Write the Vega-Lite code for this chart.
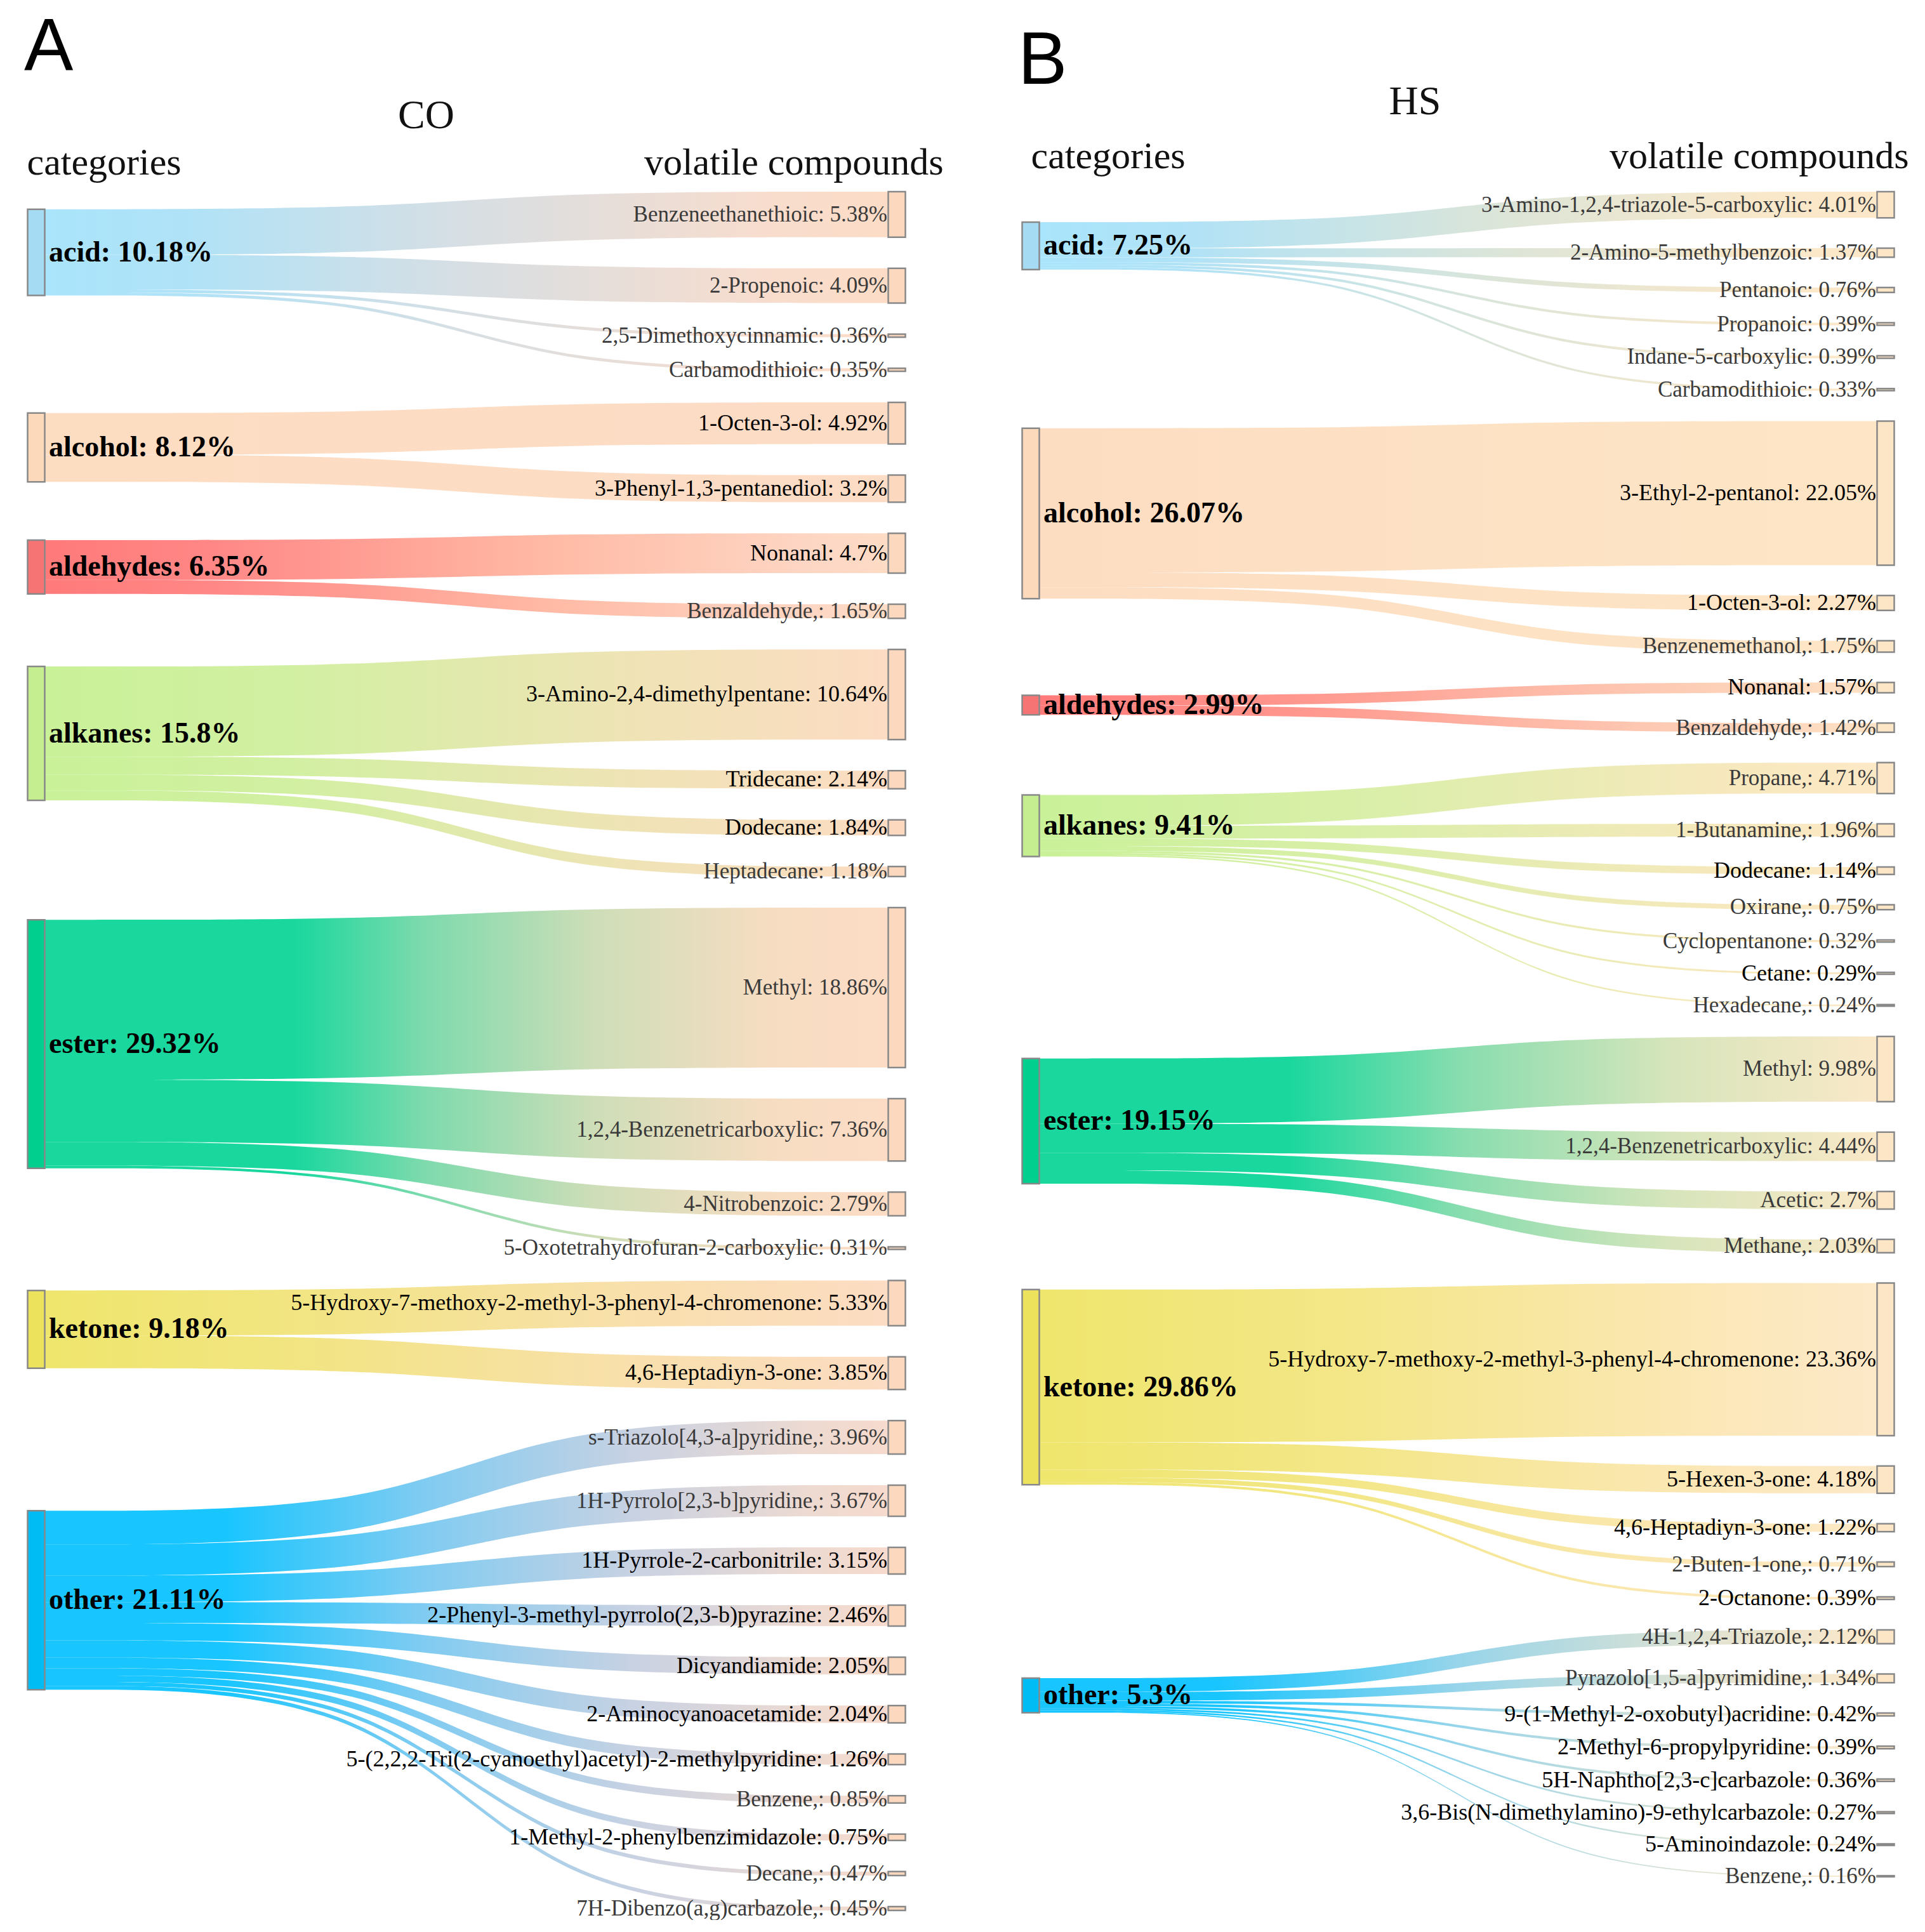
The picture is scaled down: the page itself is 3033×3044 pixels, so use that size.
{
"$schema": "https://vega.github.io/schema/vega-lite/v6.json",
"background": "white",
"padding": {"left": 38, "top": 18, "right": 0, "bottom": 0},
"spacing": 118,
"config": {"view": {"stroke": null}, "font": "Liberation Serif"},
"resolve": {"scale": {"x": "independent", "y": "independent"}},
"datasets": {
"la": [
{"c":"acid","l":"Benzeneethanethioic: 5.38%","x":[0,0.4,0.6,1],"y0":[2.07,2.07,0,0],"y1":[7.45,7.45,5.38,5.38]},
{"c":"acid","l":"2-Propenoic: 4.09%","x":[0,0.4,0.6,1],"y0":[7.45,7.45,9.05,9.05],"y1":[11.54,11.54,13.14,13.14]},
{"c":"acid","l":"2,5-Dimethoxycinnamic: 0.36%","x":[0,0.4,0.6,1],"y0":[11.54,11.54,16.81,16.81],"y1":[11.9,11.9,17.17,17.17]},
{"c":"acid","l":"Carbamodithioic: 0.35%","x":[0,0.4,0.6,1],"y0":[11.9,11.9,20.84,20.84],"y1":[12.25,12.25,21.19,21.19]},
{"c":"alcohol","l":"1-Octen-3-ol: 4.92%","x":[0,0.4,0.6,1],"y0":[26.12,26.12,24.86,24.86],"y1":[31.04,31.04,29.78,29.78]},
{"c":"alcohol","l":"3-Phenyl-1,3-pentanediol: 3.2%","x":[0,0.4,0.6,1],"y0":[31.04,31.04,33.45,33.45],"y1":[34.24,34.24,36.65,36.65]},
{"c":"aldehydes","l":"Nonanal: 4.7%","x":[0,0.4,0.6,1],"y0":[41.12,41.12,40.32,40.32],"y1":[45.82,45.82,45.02,45.02]},
{"c":"aldehydes","l":"Benzaldehyde,: 1.65%","x":[0,0.4,0.6,1],"y0":[45.82,45.82,48.69,48.69],"y1":[47.47,47.47,50.34,50.34]},
{"c":"alkanes","l":"3-Amino-2,4-dimethylpentane: 10.64%","x":[0,0.4,0.6,1],"y0":[56.03,56.03,54.01,54.01],"y1":[66.67,66.67,64.65,64.65]},
{"c":"alkanes","l":"Tridecane: 2.14%","x":[0,0.4,0.6,1],"y0":[66.67,66.67,68.32,68.32],"y1":[68.81,68.81,70.46,70.46]},
{"c":"alkanes","l":"Dodecane: 1.84%","x":[0,0.4,0.6,1],"y0":[68.81,68.81,74.13,74.13],"y1":[70.65,70.65,75.97,75.97]},
{"c":"alkanes","l":"Heptadecane: 1.18%","x":[0,0.4,0.6,1],"y0":[70.65,70.65,79.64,79.64],"y1":[71.83,71.83,80.82,80.82]},
{"c":"ester","l":"Methyl: 18.86%","x":[0,0.4,0.6,1],"y0":[85.92,85.92,84.49,84.49],"y1":[104.78,104.78,103.35,103.35]},
{"c":"ester","l":"1,2,4-Benzenetricarboxylic: 7.36%","x":[0,0.4,0.6,1],"y0":[104.78,104.78,107.02,107.02],"y1":[112.14,112.14,114.38,114.38]},
{"c":"ester","l":"4-Nitrobenzoic: 2.79%","x":[0,0.4,0.6,1],"y0":[112.14,112.14,118.05,118.05],"y1":[114.93,114.93,120.84,120.84]},
{"c":"ester","l":"5-Oxotetrahydrofuran-2-carboxylic: 0.31%","x":[0,0.4,0.6,1],"y0":[114.93,114.93,124.51,124.51],"y1":[115.24,115.24,124.82,124.82]},
{"c":"ketone","l":"5-Hydroxy-7-methoxy-2-methyl-3-phenyl-4-chromenone: 5.33%","x":[0,0.4,0.6,1],"y0":[129.66,129.66,128.49,128.49],"y1":[134.99,134.99,133.82,133.82]},
{"c":"ketone","l":"4,6-Heptadiyn-3-one: 3.85%","x":[0,0.4,0.6,1],"y0":[134.99,134.99,137.49,137.49],"y1":[138.84,138.84,141.34,141.34]},
{"c":"other","l":"s-Triazolo[4,3-a]pyridine,: 3.96%","x":[0,0.4,0.6,1],"y0":[155.66,155.66,145.01,145.01],"y1":[159.62,159.62,148.97,148.97]},
{"c":"other","l":"1H-Pyrrolo[2,3-b]pyridine,: 3.67%","x":[0,0.4,0.6,1],"y0":[159.62,159.62,152.64,152.64],"y1":[163.29,163.29,156.31,156.31]},
{"c":"other","l":"1H-Pyrrole-2-carbonitrile: 3.15%","x":[0,0.4,0.6,1],"y0":[163.29,163.29,159.98,159.98],"y1":[166.44,166.44,163.13,163.13]},
{"c":"other","l":"2-Phenyl-3-methyl-pyrrolo(2,3-b)pyrazine: 2.46%","x":[0,0.4,0.6,1],"y0":[166.44,166.44,166.8,166.8],"y1":[168.9,168.9,169.26,169.26]},
{"c":"other","l":"Dicyandiamide: 2.05%","x":[0,0.4,0.6,1],"y0":[168.9,168.9,172.93,172.93],"y1":[170.95,170.95,174.98,174.98]},
{"c":"other","l":"2-Aminocyanoacetamide: 2.04%","x":[0,0.4,0.6,1],"y0":[170.95,170.95,178.65,178.65],"y1":[172.99,172.99,180.69,180.69]},
{"c":"other","l":"5-(2,2,2-Tri(2-cyanoethyl)acetyl)-2-methylpyridine: 1.26%","x":[0,0.4,0.6,1],"y0":[172.99,172.99,184.36,184.36],"y1":[174.25,174.25,185.62,185.62]},
{"c":"other","l":"Benzene,: 0.85%","x":[0,0.4,0.6,1],"y0":[174.25,174.25,189.29,189.29],"y1":[175.1,175.1,190.14,190.14]},
{"c":"other","l":"1-Methyl-2-phenylbenzimidazole: 0.75%","x":[0,0.4,0.6,1],"y0":[175.1,175.1,193.81,193.81],"y1":[175.85,175.85,194.56,194.56]},
{"c":"other","l":"Decane,: 0.47%","x":[0,0.4,0.6,1],"y0":[175.85,175.85,198.23,198.23],"y1":[176.32,176.32,198.7,198.7]},
{"c":"other","l":"7H-Dibenzo(a,g)carbazole,: 0.45%","x":[0,0.4,0.6,1],"y0":[176.32,176.32,202.37,202.37],"y1":[176.77,176.77,202.82,202.82]}
],
"lb": [
{"c":"acid","l":"3-Amino-1,2,4-triazole-5-carboxylic: 4.01%","x":[0,0.4,0.6,1],"y0":[4.66,4.66,0,0],"y1":[8.67,8.67,4.01,4.01]},
{"c":"acid","l":"2-Amino-5-methylbenzoic: 1.37%","x":[0,0.4,0.6,1],"y0":[8.67,8.67,8.65,8.65],"y1":[10.04,10.04,10.02,10.02]},
{"c":"acid","l":"Pentanoic: 0.76%","x":[0,0.4,0.6,1],"y0":[10.04,10.04,14.66,14.66],"y1":[10.8,10.8,15.42,15.42]},
{"c":"acid","l":"Propanoic: 0.39%","x":[0,0.4,0.6,1],"y0":[10.8,10.8,20.06,20.06],"y1":[11.19,11.19,20.45,20.45]},
{"c":"acid","l":"Indane-5-carboxylic: 0.39%","x":[0,0.4,0.6,1],"y0":[11.19,11.19,25.09,25.09],"y1":[11.58,11.58,25.48,25.48]},
{"c":"acid","l":"Carbamodithioic: 0.33%","x":[0,0.4,0.6,1],"y0":[11.58,11.58,30.12,30.12],"y1":[11.91,11.91,30.45,30.45]},
{"c":"alcohol","l":"3-Ethyl-2-pentanol: 22.05%","x":[0,0.4,0.6,1],"y0":[36.2,36.2,35.09,35.09],"y1":[58.25,58.25,57.14,57.14]},
{"c":"alcohol","l":"1-Octen-3-ol: 2.27%","x":[0,0.4,0.6,1],"y0":[58.25,58.25,61.78,61.78],"y1":[60.52,60.52,64.05,64.05]},
{"c":"alcohol","l":"Benzenemethanol,: 1.75%","x":[0,0.4,0.6,1],"y0":[60.52,60.52,68.69,68.69],"y1":[62.27,62.27,70.44,70.44]},
{"c":"aldehydes","l":"Nonanal: 1.57%","x":[0,0.4,0.6,1],"y0":[77.05,77.05,75.08,75.08],"y1":[78.62,78.62,76.65,76.65]},
{"c":"aldehydes","l":"Benzaldehyde,: 1.42%","x":[0,0.4,0.6,1],"y0":[78.62,78.62,81.29,81.29],"y1":[80.04,80.04,82.71,82.71]},
{"c":"alkanes","l":"Propane,: 4.71%","x":[0,0.4,0.6,1],"y0":[92.3,92.3,87.35,87.35],"y1":[97.01,97.01,92.06,92.06]},
{"c":"alkanes","l":"1-Butanamine,: 1.96%","x":[0,0.4,0.6,1],"y0":[97.01,97.01,96.7,96.7],"y1":[98.97,98.97,98.66,98.66]},
{"c":"alkanes","l":"Dodecane: 1.14%","x":[0,0.4,0.6,1],"y0":[98.97,98.97,103.3,103.3],"y1":[100.11,100.11,104.44,104.44]},
{"c":"alkanes","l":"Oxirane,: 0.75%","x":[0,0.4,0.6,1],"y0":[100.11,100.11,109.08,109.08],"y1":[100.86,100.86,109.83,109.83]},
{"c":"alkanes","l":"Cyclopentanone: 0.32%","x":[0,0.4,0.6,1],"y0":[100.86,100.86,114.47,114.47],"y1":[101.18,101.18,114.79,114.79]},
{"c":"alkanes","l":"Cetane: 0.29%","x":[0,0.4,0.6,1],"y0":[101.18,101.18,119.43,119.43],"y1":[101.47,101.47,119.72,119.72]},
{"c":"alkanes","l":"Hexadecane,: 0.24%","x":[0,0.4,0.6,1],"y0":[101.47,101.47,124.36,124.36],"y1":[101.71,101.71,124.6,124.6]},
{"c":"ester","l":"Methyl: 9.98%","x":[0,0.4,0.6,1],"y0":[132.6,132.6,129.24,129.24],"y1":[142.58,142.58,139.22,139.22]},
{"c":"ester","l":"1,2,4-Benzenetricarboxylic: 4.44%","x":[0,0.4,0.6,1],"y0":[142.58,142.58,143.86,143.86],"y1":[147.02,147.02,148.3,148.3]},
{"c":"ester","l":"Acetic: 2.7%","x":[0,0.4,0.6,1],"y0":[147.02,147.02,152.94,152.94],"y1":[149.72,149.72,155.64,155.64]},
{"c":"ester","l":"Methane,: 2.03%","x":[0,0.4,0.6,1],"y0":[149.72,149.72,160.28,160.28],"y1":[151.75,151.75,162.31,162.31]},
{"c":"ketone","l":"5-Hydroxy-7-methoxy-2-methyl-3-phenyl-4-chromenone: 23.36%","x":[0,0.4,0.6,1],"y0":[167.96,167.96,166.95,166.95],"y1":[191.32,191.32,190.31,190.31]},
{"c":"ketone","l":"5-Hexen-3-one: 4.18%","x":[0,0.4,0.6,1],"y0":[191.32,191.32,194.95,194.95],"y1":[195.5,195.5,199.13,199.13]},
{"c":"ketone","l":"4,6-Heptadiyn-3-one: 1.22%","x":[0,0.4,0.6,1],"y0":[195.5,195.5,203.77,203.77],"y1":[196.72,196.72,204.99,204.99]},
{"c":"ketone","l":"2-Buten-1-one,: 0.71%","x":[0,0.4,0.6,1],"y0":[196.72,196.72,209.63,209.63],"y1":[197.43,197.43,210.34,210.34]},
{"c":"ketone","l":"2-Octanone: 0.39%","x":[0,0.4,0.6,1],"y0":[197.43,197.43,214.98,214.98],"y1":[197.82,197.82,215.37,215.37]},
{"c":"other","l":"4H-1,2,4-Triazole,: 2.12%","x":[0,0.4,0.6,1],"y0":[227.4,227.4,220.01,220.01],"y1":[229.52,229.52,222.13,222.13]},
{"c":"other","l":"Pyrazolo[1,5-a]pyrimidine,: 1.34%","x":[0,0.4,0.6,1],"y0":[229.52,229.52,226.77,226.77],"y1":[230.86,230.86,228.11,228.11]},
{"c":"other","l":"9-(1-Methyl-2-oxobutyl)acridine: 0.42%","x":[0,0.4,0.6,1],"y0":[230.86,230.86,232.75,232.75],"y1":[231.28,231.28,233.17,233.17]},
{"c":"other","l":"2-Methyl-6-propylpyridine: 0.39%","x":[0,0.4,0.6,1],"y0":[231.28,231.28,237.81,237.81],"y1":[231.67,231.67,238.2,238.2]},
{"c":"other","l":"5H-Naphtho[2,3-c]carbazole: 0.36%","x":[0,0.4,0.6,1],"y0":[231.67,231.67,242.84,242.84],"y1":[232.03,232.03,243.2,243.2]},
{"c":"other","l":"3,6-Bis(N-dimethylamino)-9-ethylcarbazole: 0.27%","x":[0,0.4,0.6,1],"y0":[232.03,232.03,247.84,247.84],"y1":[232.3,232.3,248.11,248.11]},
{"c":"other","l":"5-Aminoindazole: 0.24%","x":[0,0.4,0.6,1],"y0":[232.3,232.3,252.75,252.75],"y1":[232.54,232.54,252.99,252.99]},
{"c":"other","l":"Benzene,: 0.16%","x":[0,0.4,0.6,1],"y0":[232.54,232.54,257.63,257.63],"y1":[232.7,232.7,257.79,257.79]}
],
"ca": [
{"c":"acid","l":"acid: 10.18%","y0":2.07,"y1":12.25},
{"c":"alcohol","l":"alcohol: 8.12%","y0":26.12,"y1":34.24},
{"c":"aldehydes","l":"aldehydes: 6.35%","y0":41.12,"y1":47.47},
{"c":"alkanes","l":"alkanes: 15.8%","y0":56.03,"y1":71.83},
{"c":"ester","l":"ester: 29.32%","y0":85.92,"y1":115.24},
{"c":"ketone","l":"ketone: 9.18%","y0":129.66,"y1":138.84},
{"c":"other","l":"other: 21.11%","y0":155.66,"y1":176.77}
],
"cb": [
{"c":"acid","l":"acid: 7.25%","y0":4.66,"y1":11.91},
{"c":"alcohol","l":"alcohol: 26.07%","y0":36.2,"y1":62.27},
{"c":"aldehydes","l":"aldehydes: 2.99%","y0":77.05,"y1":80.04},
{"c":"alkanes","l":"alkanes: 9.41%","y0":92.3,"y1":101.71},
{"c":"ester","l":"ester: 19.15%","y0":132.6,"y1":151.75},
{"c":"ketone","l":"ketone: 29.86%","y0":167.96,"y1":197.82},
{"c":"other","l":"other: 5.3%","y0":227.4,"y1":232.7}
]
},
"hconcat": [
{
"width": 1366, "height": 2708,
"title": {"text": "A", "anchor": "start", "frame": "group", "font": "Liberation Sans", "fontSize": 116, "fontWeight": "normal", "color": "#000000", "dx": -14, "offset": 15},
"layer": [
{"data": {"name": "la"}, "transform": [{"filter": {"field": "c", "equal": "acid"}}, {"flatten": ["x", "y0", "y1"]}],
 "mark": {"type": "area", "interpolate": "basis", "fillOpacity": 0.9, "fill": {"gradient": "linear", "x1": 0, "y1": 0, "x2": 1, "y2": 0, "stops": [{"offset": 0, "color": "#9fe2fc"}, {"offset": 0.18, "color": "#a8dff6"}, {"offset": 0.5, "color": "#d3dbe0"}, {"offset": 0.85, "color": "#f7d9c8"}, {"offset": 1, "color": "#fcd8bf"}]}},
 "encoding": {
  "x": {"field": "x", "type": "quantitative", "scale": {"domain": [0, 1], "nice": false, "zero": false},
   "axis": {"orient": "top", "values": [0, 1], "domain": false, "ticks": false, "grid": false,
    "labelExpr": "datum.value == 0 ? 'categories' : 'volatile compounds'",
    "labelFont": "Liberation Serif", "labelFontSize": 60, "labelColor": "#111111", "labelLimit": 0,
    "labelAlign": {"condition": {"test": "datum.value == 0", "value": "left"}, "value": "right"},
    "labelOffset": {"condition": {"test": "datum.value == 0", "value": -15}, "value": 73},
    "labelPadding": 15, "labelFlush": false, "labelOverlap": false, "labelBound": false,
    "title": "CO", "titleFont": "Liberation Serif", "titleFontSize": 64, "titleFontWeight": "normal", "titleColor": "#111111", "titlePadding": 12, "titleX": 619}},
  "y": {"field": "y0", "type": "quantitative", "scale": {"domain": [0, 202.82], "reverse": true, "nice": false, "zero": false}, "axis": null},
  "y2": {"field": "y1"},
  "detail": {"field": "l", "type": "nominal"}}},
{"data": {"name": "la"}, "transform": [{"filter": {"field": "c", "equal": "alcohol"}}, {"flatten": ["x", "y0", "y1"]}],
 "mark": {"type": "area", "interpolate": "basis", "fillOpacity": 0.9, "fill": {"gradient": "linear", "x1": 0, "y1": 0, "x2": 1, "y2": 0, "stops": [{"offset": 0, "color": "#fdd9bb"}, {"offset": 1, "color": "#fcd8bf"}]}},
 "encoding": {"x": {"field": "x", "type": "quantitative"}, "y": {"field": "y0", "type": "quantitative", "scale": {"domain": [0, 202.82], "reverse": true, "nice": false, "zero": false}, "axis": null}, "y2": {"field": "y1"}, "detail": {"field": "l", "type": "nominal"}}},
{"data": {"name": "la"}, "transform": [{"filter": {"field": "c", "equal": "aldehydes"}}, {"flatten": ["x", "y0", "y1"]}],
 "mark": {"type": "area", "interpolate": "basis", "fillOpacity": 0.9, "fill": {"gradient": "linear", "x1": 0, "y1": 0, "x2": 1, "y2": 0, "stops": [{"offset": 0, "color": "#ff6b6b"}, {"offset": 0.2, "color": "#ff7a78"}, {"offset": 0.6, "color": "#ffb39c"}, {"offset": 0.9, "color": "#fdd2bd"}, {"offset": 1, "color": "#fcd8bf"}]}},
 "encoding": {"x": {"field": "x", "type": "quantitative"}, "y": {"field": "y0", "type": "quantitative", "scale": {"domain": [0, 202.82], "reverse": true, "nice": false, "zero": false}, "axis": null}, "y2": {"field": "y1"}, "detail": {"field": "l", "type": "nominal"}}},
{"data": {"name": "la"}, "transform": [{"filter": {"field": "c", "equal": "alkanes"}}, {"flatten": ["x", "y0", "y1"]}],
 "mark": {"type": "area", "interpolate": "basis", "fillOpacity": 0.9, "fill": {"gradient": "linear", "x1": 0, "y1": 0, "x2": 1, "y2": 0, "stops": [{"offset": 0, "color": "#c3f08d"}, {"offset": 0.3, "color": "#cdee98"}, {"offset": 0.7, "color": "#eee0ae"}, {"offset": 1, "color": "#fcd8bd"}]}},
 "encoding": {"x": {"field": "x", "type": "quantitative"}, "y": {"field": "y0", "type": "quantitative", "scale": {"domain": [0, 202.82], "reverse": true, "nice": false, "zero": false}, "axis": null}, "y2": {"field": "y1"}, "detail": {"field": "l", "type": "nominal"}}},
{"data": {"name": "la"}, "transform": [{"filter": {"field": "c", "equal": "ester"}}, {"flatten": ["x", "y0", "y1"]}],
 "mark": {"type": "area", "interpolate": "basis", "fillOpacity": 0.9, "fill": {"gradient": "linear", "x1": 0, "y1": 0, "x2": 1, "y2": 0, "stops": [{"offset": 0, "color": "#00d393"}, {"offset": 0.3, "color": "#00d393"}, {"offset": 0.45, "color": "#6fd6a4"}, {"offset": 0.65, "color": "#c9dab0"}, {"offset": 0.85, "color": "#f5d9bb"}, {"offset": 1, "color": "#fcd8bf"}]}},
 "encoding": {"x": {"field": "x", "type": "quantitative"}, "y": {"field": "y0", "type": "quantitative", "scale": {"domain": [0, 202.82], "reverse": true, "nice": false, "zero": false}, "axis": null}, "y2": {"field": "y1"}, "detail": {"field": "l", "type": "nominal"}}},
{"data": {"name": "la"}, "transform": [{"filter": {"field": "c", "equal": "ketone"}}, {"flatten": ["x", "y0", "y1"]}],
 "mark": {"type": "area", "interpolate": "basis", "fillOpacity": 0.9, "fill": {"gradient": "linear", "x1": 0, "y1": 0, "x2": 1, "y2": 0, "stops": [{"offset": 0, "color": "#ede35c"}, {"offset": 0.3, "color": "#f0e274"}, {"offset": 0.7, "color": "#f8dca4"}, {"offset": 1, "color": "#fcd8bd"}]}},
 "encoding": {"x": {"field": "x", "type": "quantitative"}, "y": {"field": "y0", "type": "quantitative", "scale": {"domain": [0, 202.82], "reverse": true, "nice": false, "zero": false}, "axis": null}, "y2": {"field": "y1"}, "detail": {"field": "l", "type": "nominal"}}},
{"data": {"name": "la"}, "transform": [{"filter": {"field": "c", "equal": "other"}}, {"flatten": ["x", "y0", "y1"]}],
 "mark": {"type": "area", "interpolate": "basis", "fillOpacity": 0.9, "fill": {"gradient": "linear", "x1": 0, "y1": 0, "x2": 1, "y2": 0, "stops": [{"offset": 0, "color": "#00bfff"}, {"offset": 0.22, "color": "#00bfff"}, {"offset": 0.45, "color": "#72c6f0"}, {"offset": 0.7, "color": "#c4cddf"}, {"offset": 0.9, "color": "#ecd6cc"}, {"offset": 1, "color": "#f6d6c7"}]}},
 "encoding": {"x": {"field": "x", "type": "quantitative"}, "y": {"field": "y0", "type": "quantitative", "scale": {"domain": [0, 202.82], "reverse": true, "nice": false, "zero": false}, "axis": null}, "y2": {"field": "y1"}, "detail": {"field": "l", "type": "nominal"}}},
{"data": {"name": "la"}, "transform": [{"flatten": ["x", "y0", "y1"]}, {"filter": "datum.x == 1"}],
 "mark": {"type": "bar", "width": 27, "fill": "#fcd8be", "stroke": "#888888", "strokeWidth": 2.5},
 "encoding": {"x": {"field": "x", "type": "quantitative"}, "y": {"field": "y0", "type": "quantitative", "scale": {"domain": [0, 202.82], "reverse": true, "nice": false, "zero": false}, "axis": null}, "y2": {"field": "y1"}}},
{"data": {"name": "ca"},
 "mark": {"type": "bar", "width": 27, "stroke": "#888888", "strokeWidth": 2.5},
 "encoding": {"x": {"datum": 0, "type": "quantitative"}, "y": {"field": "y0", "type": "quantitative", "scale": {"domain": [0, 202.82], "reverse": true, "nice": false, "zero": false}, "axis": null}, "y2": {"field": "y1"},
  "fill": {"field": "c", "type": "nominal", "legend": null, "scale": {"domain": ["acid", "alcohol", "aldehydes", "alkanes", "ester", "ketone", "other"], "range": ["#a6dcf3", "#fdd9bb", "#f77474", "#c5ee90", "#00cf8d", "#ece25c", "#00bcf4"]}}}},
{"data": {"name": "ca"}, "transform": [{"fold": ["y0", "y1"], "as": ["k", "v"]}],
 "mark": {"type": "text", "align": "left", "baseline": "middle", "dx": 20, "font": "Liberation Serif", "fontSize": 46, "fontWeight": "bold", "fill": "#000000"},
 "encoding": {"x": {"datum": 0, "type": "quantitative"}, "y": {"aggregate": "mean", "field": "v", "type": "quantitative", "scale": {"domain": [0, 202.82], "reverse": true, "nice": false, "zero": false}, "axis": null}, "text": {"field": "l"}}},
{"data": {"name": "la"}, "transform": [{"flatten": ["x", "y0", "y1"]}, {"filter": "datum.x == 1"}, {"filter": {"field": "l", "oneOf": ["1-Octen-3-ol: 4.92%","3-Phenyl-1,3-pentanediol: 3.2%","Nonanal: 4.7%","3-Amino-2,4-dimethylpentane: 10.64%","Tridecane: 2.14%","Dodecane: 1.84%","5-Hydroxy-7-methoxy-2-methyl-3-phenyl-4-chromenone: 5.33%","4,6-Heptadiyn-3-one: 3.85%","1H-Pyrrole-2-carbonitrile: 3.15%","2-Phenyl-3-methyl-pyrrolo(2,3-b)pyrazine: 2.46%","Dicyandiamide: 2.05%","2-Aminocyanoacetamide: 2.04%","5-(2,2,2-Tri(2-cyanoethyl)acetyl)-2-methylpyridine: 1.26%","1-Methyl-2-phenylbenzimidazole: 0.75%"]}}, {"fold": ["y0", "y1"], "as": ["k", "v"]}],
 "mark": {"type": "text", "align": "right", "baseline": "middle", "dx": -15, "font": "Liberation Serif", "fontSize": 36, "fill": "#000000"},
 "encoding": {"x": {"field": "x", "type": "quantitative"}, "y": {"aggregate": "mean", "field": "v", "type": "quantitative", "scale": {"domain": [0, 202.82], "reverse": true, "nice": false, "zero": false}, "axis": null}, "text": {"field": "l"}}},
{"data": {"name": "la"}, "transform": [{"flatten": ["x", "y0", "y1"]}, {"filter": "datum.x == 1"}, {"filter": {"not": {"field": "l", "oneOf": ["1-Octen-3-ol: 4.92%","3-Phenyl-1,3-pentanediol: 3.2%","Nonanal: 4.7%","3-Amino-2,4-dimethylpentane: 10.64%","Tridecane: 2.14%","Dodecane: 1.84%","5-Hydroxy-7-methoxy-2-methyl-3-phenyl-4-chromenone: 5.33%","4,6-Heptadiyn-3-one: 3.85%","1H-Pyrrole-2-carbonitrile: 3.15%","2-Phenyl-3-methyl-pyrrolo(2,3-b)pyrazine: 2.46%","Dicyandiamide: 2.05%","2-Aminocyanoacetamide: 2.04%","5-(2,2,2-Tri(2-cyanoethyl)acetyl)-2-methylpyridine: 1.26%","1-Methyl-2-phenylbenzimidazole: 0.75%"]}}}, {"fold": ["y0", "y1"], "as": ["k", "v"]}],
 "mark": {"type": "text", "align": "right", "baseline": "middle", "dx": -15, "font": "Liberation Serif", "fontSize": 35, "fill": "#3a3a3a"},
 "encoding": {"x": {"field": "x", "type": "quantitative"}, "y": {"aggregate": "mean", "field": "v", "type": "quantitative", "scale": {"domain": [0, 202.82], "reverse": true, "nice": false, "zero": false}, "axis": null}, "text": {"field": "l"}}}
]
},
{
"width": 1357, "height": 2655,
"title": {"text": "B", "anchor": "start", "frame": "group", "font": "Liberation Sans", "fontSize": 116, "fontWeight": "normal", "color": "#000000", "dx": -15, "offset": -28},
"layer": [
{"data": {"name": "lb"}, "transform": [{"filter": {"field": "c", "equal": "acid"}}, {"flatten": ["x", "y0", "y1"]}],
 "mark": {"type": "area", "interpolate": "basis", "fillOpacity": 0.9, "fill": {"gradient": "linear", "x1": 0, "y1": 0, "x2": 1, "y2": 0, "stops": [{"offset": 0, "color": "#9fe2fc"}, {"offset": 0.18, "color": "#a8dff6"}, {"offset": 0.55, "color": "#d8e2d4"}, {"offset": 0.85, "color": "#f8e5c4"}, {"offset": 1, "color": "#fde6c3"}]}},
 "encoding": {
  "x": {"field": "x", "type": "quantitative", "scale": {"domain": [0, 1], "nice": false, "zero": false},
   "axis": {"orient": "top", "values": [0, 1], "domain": false, "ticks": false, "grid": false,
    "labelExpr": "datum.value == 0 ? 'categories' : 'volatile compounds'",
    "labelFont": "Liberation Serif", "labelFontSize": 60, "labelColor": "#111111", "labelLimit": 0,
    "labelAlign": {"condition": {"test": "datum.value == 0", "value": "left"}, "value": "right"},
    "labelOffset": {"condition": {"test": "datum.value == 0", "value": 0}, "value": 36},
    "labelPadding": 25, "labelFlush": false, "labelOverlap": false, "labelBound": false,
    "title": "HS", "titleFont": "Liberation Serif", "titleFontSize": 64, "titleFontWeight": "normal", "titleColor": "#111111", "titlePadding": 24, "titleX": 610}},
  "y": {"field": "y0", "type": "quantitative", "scale": {"domain": [0, 257.79], "reverse": true, "nice": false, "zero": false}, "axis": null},
  "y2": {"field": "y1"},
  "detail": {"field": "l", "type": "nominal"}}},
{"data": {"name": "lb"}, "transform": [{"filter": {"field": "c", "equal": "alcohol"}}, {"flatten": ["x", "y0", "y1"]}],
 "mark": {"type": "area", "interpolate": "basis", "fillOpacity": 0.9, "fill": {"gradient": "linear", "x1": 0, "y1": 0, "x2": 1, "y2": 0, "stops": [{"offset": 0, "color": "#fdd9bb"}, {"offset": 1, "color": "#fde3c0"}]}},
 "encoding": {"x": {"field": "x", "type": "quantitative"}, "y": {"field": "y0", "type": "quantitative", "scale": {"domain": [0, 257.79], "reverse": true, "nice": false, "zero": false}, "axis": null}, "y2": {"field": "y1"}, "detail": {"field": "l", "type": "nominal"}}},
{"data": {"name": "lb"}, "transform": [{"filter": {"field": "c", "equal": "aldehydes"}}, {"flatten": ["x", "y0", "y1"]}],
 "mark": {"type": "area", "interpolate": "basis", "fillOpacity": 0.9, "fill": {"gradient": "linear", "x1": 0, "y1": 0, "x2": 1, "y2": 0, "stops": [{"offset": 0, "color": "#ff6b6b"}, {"offset": 0.3, "color": "#ff8a80"}, {"offset": 0.7, "color": "#fdc0a8"}, {"offset": 1, "color": "#fde0bf"}]}},
 "encoding": {"x": {"field": "x", "type": "quantitative"}, "y": {"field": "y0", "type": "quantitative", "scale": {"domain": [0, 257.79], "reverse": true, "nice": false, "zero": false}, "axis": null}, "y2": {"field": "y1"}, "detail": {"field": "l", "type": "nominal"}}},
{"data": {"name": "lb"}, "transform": [{"filter": {"field": "c", "equal": "alkanes"}}, {"flatten": ["x", "y0", "y1"]}],
 "mark": {"type": "area", "interpolate": "basis", "fillOpacity": 0.9, "fill": {"gradient": "linear", "x1": 0, "y1": 0, "x2": 1, "y2": 0, "stops": [{"offset": 0, "color": "#c3f08d"}, {"offset": 0.4, "color": "#d6eda0"}, {"offset": 0.8, "color": "#f5e6b5"}, {"offset": 1, "color": "#fde6c0"}]}},
 "encoding": {"x": {"field": "x", "type": "quantitative"}, "y": {"field": "y0", "type": "quantitative", "scale": {"domain": [0, 257.79], "reverse": true, "nice": false, "zero": false}, "axis": null}, "y2": {"field": "y1"}, "detail": {"field": "l", "type": "nominal"}}},
{"data": {"name": "lb"}, "transform": [{"filter": {"field": "c", "equal": "ester"}}, {"flatten": ["x", "y0", "y1"]}],
 "mark": {"type": "area", "interpolate": "basis", "fillOpacity": 0.9, "fill": {"gradient": "linear", "x1": 0, "y1": 0, "x2": 1, "y2": 0, "stops": [{"offset": 0, "color": "#00d393"}, {"offset": 0.3, "color": "#00d393"}, {"offset": 0.5, "color": "#7ad9a6"}, {"offset": 0.75, "color": "#d3e2b4"}, {"offset": 1, "color": "#fbe6c3"}]}},
 "encoding": {"x": {"field": "x", "type": "quantitative"}, "y": {"field": "y0", "type": "quantitative", "scale": {"domain": [0, 257.79], "reverse": true, "nice": false, "zero": false}, "axis": null}, "y2": {"field": "y1"}, "detail": {"field": "l", "type": "nominal"}}},
{"data": {"name": "lb"}, "transform": [{"filter": {"field": "c", "equal": "ketone"}}, {"flatten": ["x", "y0", "y1"]}],
 "mark": {"type": "area", "interpolate": "basis", "fillOpacity": 0.9, "fill": {"gradient": "linear", "x1": 0, "y1": 0, "x2": 1, "y2": 0, "stops": [{"offset": 0, "color": "#ede35c"}, {"offset": 0.4, "color": "#f2e47e"}, {"offset": 0.8, "color": "#fbe5b0"}, {"offset": 1, "color": "#fde6c3"}]}},
 "encoding": {"x": {"field": "x", "type": "quantitative"}, "y": {"field": "y0", "type": "quantitative", "scale": {"domain": [0, 257.79], "reverse": true, "nice": false, "zero": false}, "axis": null}, "y2": {"field": "y1"}, "detail": {"field": "l", "type": "nominal"}}},
{"data": {"name": "lb"}, "transform": [{"filter": {"field": "c", "equal": "other"}}, {"flatten": ["x", "y0", "y1"]}],
 "mark": {"type": "area", "interpolate": "basis", "fillOpacity": 0.9, "fill": {"gradient": "linear", "x1": 0, "y1": 0, "x2": 1, "y2": 0, "stops": [{"offset": 0, "color": "#00bfff"}, {"offset": 0.22, "color": "#00bfff"}, {"offset": 0.5, "color": "#8cd0e8"}, {"offset": 0.8, "color": "#e0e0cc"}, {"offset": 1, "color": "#fde6c3"}]}},
 "encoding": {"x": {"field": "x", "type": "quantitative"}, "y": {"field": "y0", "type": "quantitative", "scale": {"domain": [0, 257.79], "reverse": true, "nice": false, "zero": false}, "axis": null}, "y2": {"field": "y1"}, "detail": {"field": "l", "type": "nominal"}}},
{"data": {"name": "lb"}, "transform": [{"flatten": ["x", "y0", "y1"]}, {"filter": "datum.x == 1"}],
 "mark": {"type": "bar", "width": 27, "fill": "#fde6c6", "stroke": "#888888", "strokeWidth": 2.5},
 "encoding": {"x": {"field": "x", "type": "quantitative"}, "y": {"field": "y0", "type": "quantitative", "scale": {"domain": [0, 257.79], "reverse": true, "nice": false, "zero": false}, "axis": null}, "y2": {"field": "y1"}}},
{"data": {"name": "cb"},
 "mark": {"type": "bar", "width": 27, "stroke": "#888888", "strokeWidth": 2.5},
 "encoding": {"x": {"datum": 0, "type": "quantitative"}, "y": {"field": "y0", "type": "quantitative", "scale": {"domain": [0, 257.79], "reverse": true, "nice": false, "zero": false}, "axis": null}, "y2": {"field": "y1"},
  "fill": {"field": "c", "type": "nominal", "legend": null, "scale": {"domain": ["acid", "alcohol", "aldehydes", "alkanes", "ester", "ketone", "other"], "range": ["#a6dcf3", "#fdd9bb", "#f77474", "#c5ee90", "#00cf8d", "#ece25c", "#00bcf4"]}}}},
{"data": {"name": "cb"}, "transform": [{"fold": ["y0", "y1"], "as": ["k", "v"]}],
 "mark": {"type": "text", "align": "left", "baseline": "middle", "dx": 20, "font": "Liberation Serif", "fontSize": 46, "fontWeight": "bold", "fill": "#000000"},
 "encoding": {"x": {"datum": 0, "type": "quantitative"}, "y": {"aggregate": "mean", "field": "v", "type": "quantitative", "scale": {"domain": [0, 257.79], "reverse": true, "nice": false, "zero": false}, "axis": null}, "text": {"field": "l"}}},
{"data": {"name": "lb"}, "transform": [{"flatten": ["x", "y0", "y1"]}, {"filter": "datum.x == 1"}, {"filter": {"field": "l", "oneOf": ["3-Ethyl-2-pentanol: 22.05%","1-Octen-3-ol: 2.27%","Nonanal: 1.57%","Dodecane: 1.14%","Cetane: 0.29%","5-Hydroxy-7-methoxy-2-methyl-3-phenyl-4-chromenone: 23.36%","5-Hexen-3-one: 4.18%","4,6-Heptadiyn-3-one: 1.22%","2-Octanone: 0.39%","9-(1-Methyl-2-oxobutyl)acridine: 0.42%","2-Methyl-6-propylpyridine: 0.39%","5H-Naphtho[2,3-c]carbazole: 0.36%","3,6-Bis(N-dimethylamino)-9-ethylcarbazole: 0.27%","5-Aminoindazole: 0.24%"]}}, {"fold": ["y0", "y1"], "as": ["k", "v"]}],
 "mark": {"type": "text", "align": "right", "baseline": "middle", "dx": -15, "font": "Liberation Serif", "fontSize": 36, "fill": "#000000"},
 "encoding": {"x": {"field": "x", "type": "quantitative"}, "y": {"aggregate": "mean", "field": "v", "type": "quantitative", "scale": {"domain": [0, 257.79], "reverse": true, "nice": false, "zero": false}, "axis": null}, "text": {"field": "l"}}},
{"data": {"name": "lb"}, "transform": [{"flatten": ["x", "y0", "y1"]}, {"filter": "datum.x == 1"}, {"filter": {"not": {"field": "l", "oneOf": ["3-Ethyl-2-pentanol: 22.05%","1-Octen-3-ol: 2.27%","Nonanal: 1.57%","Dodecane: 1.14%","Cetane: 0.29%","5-Hydroxy-7-methoxy-2-methyl-3-phenyl-4-chromenone: 23.36%","5-Hexen-3-one: 4.18%","4,6-Heptadiyn-3-one: 1.22%","2-Octanone: 0.39%","9-(1-Methyl-2-oxobutyl)acridine: 0.42%","2-Methyl-6-propylpyridine: 0.39%","5H-Naphtho[2,3-c]carbazole: 0.36%","3,6-Bis(N-dimethylamino)-9-ethylcarbazole: 0.27%","5-Aminoindazole: 0.24%"]}}}, {"fold": ["y0", "y1"], "as": ["k", "v"]}],
 "mark": {"type": "text", "align": "right", "baseline": "middle", "dx": -15, "font": "Liberation Serif", "fontSize": 35, "fill": "#3a3a3a"},
 "encoding": {"x": {"field": "x", "type": "quantitative"}, "y": {"aggregate": "mean", "field": "v", "type": "quantitative", "scale": {"domain": [0, 257.79], "reverse": true, "nice": false, "zero": false}, "axis": null}, "text": {"field": "l"}}}
]
}
]
}
